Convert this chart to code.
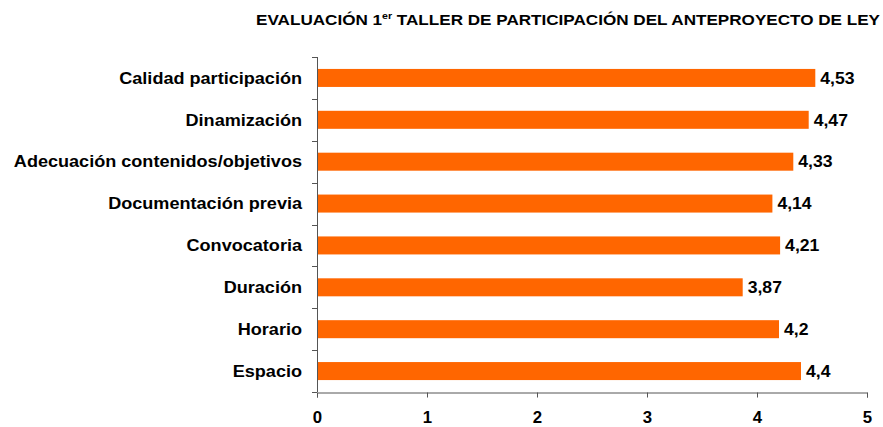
<!DOCTYPE html>
<html>
<head>
<meta charset="utf-8">
<script src="https://cdn.jsdelivr.net/npm/d3@7"></script>
<style>
	body { margin: 0; background: #fff; }
	svg { display: block; font-family: 'Liberation Sans', Arial, sans-serif; }
</style>
</head>
<body>
<div id="chart"></div>
<script>
// categories top to bottom, with their scores
const categories = [
	'Calidad participación',
	'Dinamización',
	'Adecuación contenidos/objetivos',
	'Documentación previa',
	'Convocatoria',
	'Duración',
	'Horario',
	'Espacio',
];
const values = [4.53, 4.47, 4.33, 4.14, 4.21, 3.87, 4.2, 4.4];
const xTicks = [0, 1, 2, 3, 4, 5];

const width = 883;
const height = 427;
const marginTop = 57;
const marginRight = 16;
const marginBottom = 35;
const marginLeft = 317;

// the original text is a bit wider than Arial, so stretch it horizontally
const stretch = 1.13;

const data = categories.map((c, i) => ({ name: c, value: values[i] }));

const svg = d3
	.select('#chart')
	.append('svg')
	.attr('width', width)
	.attr('height', height);

const x = d3
	.scaleLinear()
	.domain([0, 5])
	.range([marginLeft, width - marginRight]);

const y = d3
	.scaleBand()
	.domain(categories)
	.range([marginTop, height - marginBottom])
	.paddingInner(0.57)
	.paddingOuter(0.285);

// band edges, used for the tick marks between categories
const step = (height - marginBottom - marginTop) / categories.length;

// title
const title = svg
	.append('text')
	.attr('transform', 'translate(568,25) scale(1.18,1)')
	.attr('text-anchor', 'middle')
	.attr('font-size', 14.5)
	.attr('font-weight', 'bold')
	.attr('fill', '#000');
title.append('tspan').text('EVALUACIÓN 1');
title.append('tspan').attr('dy', -6).attr('font-size', 9).text('er');
title.append('tspan').attr('dy', 6).text(' TALLER DE PARTICIPACIÓN DEL ANTEPROYECTO DE LEY');

// bars
svg
	.append('g')
	.attr('fill', '#ff6600')
	.selectAll('rect')
	.data(data)
	.join('rect')
	.attr('x', x(0))
	.attr('y', (d) => y(d.name))
	.attr('width', (d) => x(d.value) - x(0))
	.attr('height', y.bandwidth());

// value labels
svg
	.append('g')
	.selectAll('text')
	.data(data)
	.join('text')
	.attr('transform', (d) => `translate(${x(d.value) + 5},${y(d.name) + y.bandwidth() / 2}) scale(1.1,1)`)
	.attr('dy', '0.36em')
	.attr('font-size', 16)
	.attr('font-weight', 'bold')
	.text((d) => String(d.value).replace('.', ','));

// y axis: vertical line with separator ticks
const yAxis = svg.append('g').attr('stroke', '#555').attr('stroke-width', 1);
yAxis
	.append('line')
	.attr('x1', x(0) + 0.5)
	.attr('x2', x(0) + 0.5)
	.attr('y1', marginTop)
	.attr('y2', height - marginBottom);
yAxis
	.selectAll('.sep')
	.data(d3.range(categories.length + 1))
	.join('line')
	.attr('x1', x(0) - 5)
	.attr('x2', x(0))
	.attr('y1', (i) => Math.round(marginTop + i * step) + 0.5)
	.attr('y2', (i) => Math.round(marginTop + i * step) + 0.5);

// category labels
svg
	.append('g')
	.selectAll('text')
	.data(categories)
	.join('text')
	.attr('transform', (d) => `translate(${x(0) - 15},${y(d) + y.bandwidth() / 2}) scale(${stretch},1)`)
	.attr('dy', '0.36em')
	.attr('text-anchor', 'end')
	.attr('font-size', 16)
	.attr('font-weight', 'bold')
	.text((d) => d);

// x axis
const xAxis = svg
	.append('g')
	.attr('transform', `translate(0,${Math.round(height - marginBottom) + 0.5})`)
	.call(
		d3
			.axisBottom(x)
			.tickValues(xTicks)
			.tickFormat(d3.format('d'))
			.tickSize(5)
			.tickPadding(14)
			.tickSizeOuter(5)
	);
xAxis.select('.domain').attr('stroke', '#555');
xAxis.selectAll('line').attr('stroke', '#555');
xAxis
	.selectAll('text')
	.attr('transform', 'scale(1.05,1)')
	.attr('font-size', 16)
	.attr('font-weight', 'bold')
	.attr('font-family', "'Liberation Sans', Arial, sans-serif")
	.attr('fill', '#000');
</script>
</body>
</html>
